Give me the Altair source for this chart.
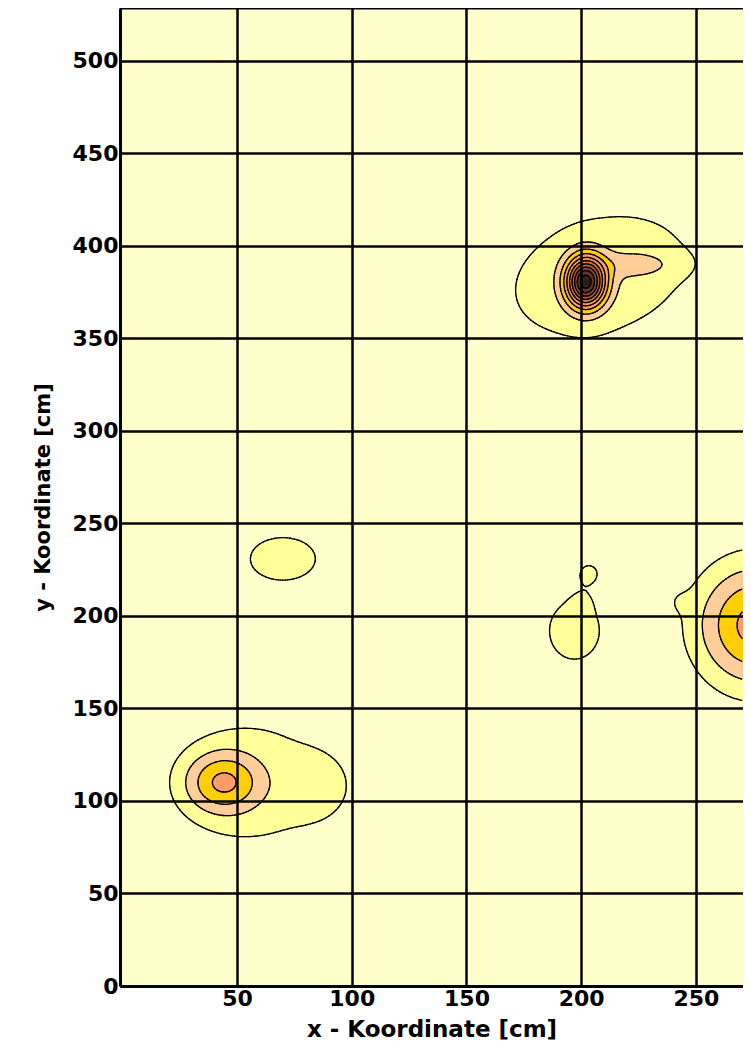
import numpy as np
import pandas as pd
import altair as alt

alt.data_transformers.disable_max_rows()

# ---- axis ranges and ticks ----
x_domain = [-1.0, 270.5]
y_domain = [0.0, 528.6]
x_ticks = [50, 100, 150, 200, 250]
y_ticks = [0, 50, 100, 150, 200, 250, 300, 350, 400, 450, 500]

# ---- contour levels and colours ----
level_values = [1, 2, 3, 4, 5, 6, 7, 8, 9, 10]
level_colors = ["#FFFF99", "#FFCC99", "#FFCC00", "#FF9966", "#F5963C",
                "#D9742E", "#B0582A", "#874226", "#5A2D1E", "#2A1610"]
background = "#FFFFCC"

# ---- intensity peaks (centre, height, spread, tilt) ----
peak_x   = [43.5, 62.0, 86.0, 70.0, 197.0, 200.5, 203.5, 202.0, 208.0, 225.0, 276.0, 242.0]
peak_y   = [110.0, 110.0, 108.0, 231.0, 192.0, 208.0, 223.5, 380.5, 384.0, 390.0, 195.0, 208.0]
peak_amp = [3.3, 1.2, 0.8, 1.5, 1.5, 0.38, 1.06, 9.0, 1.6, 1.1, 4.4, 0.4]
peak_sx  = [12.0, 30.0, 10.0, 15.5, 12.0, 4.0, 4.5, 6.0, 40.0, 12.0, 18.5, 4.0]
peak_sy  = [12.0, 40.0, 12.0, 12.5, 17.0, 5.0, 5.5, 9.5, 30.0, 5.0, 24.0, 5.0]
peak_rot = [0, 0, 0, 0, 0, 0, 0, 0, 30, 0, 0, 0]


def field(X, Y):
    Z = np.zeros_like(X)
    for cx, cy, a, sx, sy, rot in zip(peak_x, peak_y, peak_amp, peak_sx, peak_sy, peak_rot):
        t = np.deg2rad(rot)
        dx = X - cx
        dy = Y - cy
        u = dx * np.cos(t) + dy * np.sin(t)
        v = -dx * np.sin(t) + dy * np.cos(t)
        Z += a * np.exp(-(u ** 2 / (2 * sx ** 2) + v ** 2 / (2 * sy ** 2)))
    return Z


# ---- filled bands: run-length rows of cells ----
dxf, dyf = 0.25, 0.5
xe = np.arange(x_domain[0], x_domain[1] + 1e-9, dxf)
ye = np.arange(0.0, 528.5 + 1e-9, dyf)
xc = (xe[:-1] + xe[1:]) / 2
yc = (ye[:-1] + ye[1:]) / 2
XC, YC = np.meshgrid(xc, yc)
LV = np.searchsorted(np.array(level_values, dtype=float), field(XC, YC), side="right")
fill_rows = []
for j in range(LV.shape[0]):
    r = LV[j]
    if r.max() == 0:
        continue
    change = np.flatnonzero(np.diff(r)) + 1
    starts = np.concatenate([[0], change])
    ends = np.concatenate([change, [len(r)]])
    for s, e in zip(starts, ends):
        if r[s] > 0:
            fill_rows.append((round(xe[s], 2), round(xe[e], 2), round(ye[j], 2),
                              round(ye[j + 1], 2), level_values[r[s] - 1]))
fill_df = pd.DataFrame(fill_rows, columns=["x0", "x1", "y0", "y1", "level"])

# ---- contour lines: marching squares ----
dn = 1.0
xn = np.arange(x_domain[0], x_domain[1] + 1e-9, dn)
yn = np.arange(0.0, 528.0 + 1e-9, dn)
XN, YN = np.meshgrid(xn, yn)
ZN = field(XN, YN)
z00 = ZN[:-1, :-1]; z10 = ZN[:-1, 1:]; z01 = ZN[1:, :-1]; z11 = ZN[1:, 1:]
gx = XN[:-1, :-1]; gy = YN[:-1, :-1]
table = {1: [("L", "B")], 2: [("B", "R")], 3: [("L", "R")], 4: [("R", "T")],
         5: [("L", "B"), ("R", "T")], 6: [("B", "T")], 7: [("L", "T")], 8: [("L", "T")],
         9: [("B", "T")], 10: [("B", "R"), ("L", "T")], 11: [("R", "T")], 12: [("L", "R")],
         13: [("B", "R")], 14: [("L", "B")]}
seg_parts = []
for L in level_values:
    case = ((z00 >= L).astype(int) + 2 * (z10 >= L) + 4 * (z11 >= L) + 8 * (z01 >= L))
    def tt(a, c):
        d = c - a
        with np.errstate(divide="ignore", invalid="ignore"):
            t = np.where(np.abs(d) > 1e-12, (L - a) / d, 0.5)
        return np.clip(t, 0, 1)
    edges = {
        "B": (gx + tt(z00, z10) * dn, gy),
        "R": (gx + dn, gy + tt(z10, z11) * dn),
        "T": (gx + tt(z01, z11) * dn, gy + dn),
        "L": (gx, gy + tt(z00, z01) * dn),
    }
    for c, pairs in table.items():
        m = case == c
        if not m.any():
            continue
        for a, b in pairs:
            seg_parts.append(pd.DataFrame({
                "x": np.round(edges[a][0][m], 2), "y": np.round(edges[a][1][m], 2),
                "x2": np.round(edges[b][0][m], 2), "y2": np.round(edges[b][1][m], 2)}))
seg_df = pd.concat(seg_parts, ignore_index=True)

# ---- chart ----
xscale = alt.Scale(domain=x_domain, nice=False, zero=False)
yscale = alt.Scale(domain=y_domain, nice=False, zero=False)
font = "DejaVu Sans"

xaxis = alt.Axis(values=x_ticks, title="x - Koordinate [cm]", grid=True, gridColor="black",
                 gridWidth=2.5, gridOpacity=1, domainColor="black", domainWidth=3, ticks=False,
                 labelFont=font, labelFontSize=22, labelFontWeight="bold", labelColor="black",
                 labelPadding=2, titleFont=font, titleFontSize=23, titleFontWeight="bold",
                 titleColor="black", titlePadding=9, zindex=1)
yaxis = alt.Axis(values=y_ticks, title="y - Koordinate [cm]", grid=True, gridColor="black",
                 gridWidth=2.5, gridOpacity=1, domainColor="black", domainWidth=3, ticks=False,
                 labelFont=font, labelFontSize=22, labelFontWeight="bold", labelColor="black",
                 labelPadding=2, titleFont=font, titleFontSize=21, titleFontWeight="bold",
                 titleColor="black", titlePadding=19, zindex=1)

cscale = alt.Scale(domain=level_values, range=level_colors)
bands = alt.Chart(fill_df).mark_rect(strokeWidth=0.5).encode(
    x=alt.X("x0:Q", scale=xscale, axis=xaxis),
    x2="x1:Q",
    y=alt.Y("y0:Q", scale=yscale, axis=yaxis),
    y2="y1:Q",
    color=alt.Color("level:O", scale=cscale, legend=None),
    stroke=alt.Stroke("level:O", scale=cscale, legend=None),
)
lines = alt.Chart(seg_df).mark_rule(color="black", strokeWidth=1.3, strokeCap="round").encode(
    x="x:Q", y="y:Q", x2="x2:Q", y2="y2:Q")
top = alt.Chart(pd.DataFrame({"y": [y_domain[1]]})).mark_rule(color="black", strokeWidth=3).encode(
    y="y:Q")

chart = alt.layer(bands, lines, top).properties(
    width=623, height=978,
    autosize=alt.AutoSizeParams(type="none"),
    padding={"left": 112, "top": 0, "right": 0, "bottom": 58},
    background="white",
).configure_view(strokeWidth=0, fill=background)

chart.save("out.html", embed_options={"renderer": "svg", "actions": False})
